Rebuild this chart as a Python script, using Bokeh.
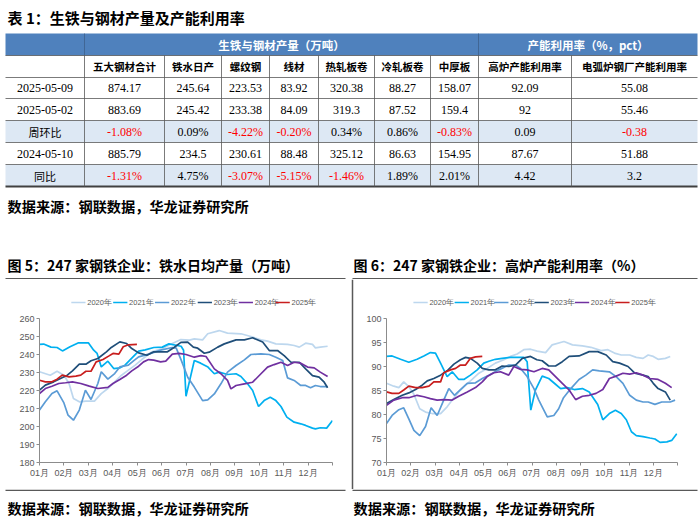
from bokeh.plotting import figure
from bokeh.models import Range1d, FixedTicker
from bokeh.layouts import column, row
from bokeh.embed import file_html
from bokeh.resources import INLINE
from bokeh.core.properties import value

# ---------------- texts ----------------
table_title = "表 1：生铁与钢材产量及产能利用率"
group_headers = ["生铁与钢材产量（万吨）", "产能利用率（%，pct）"]
col_headers = ["五大钢材合计", "铁水日产", "螺纹钢", "线材", "热轧板卷", "冷轧板卷",
               "中厚板", "高炉产能利用率", "电弧炉钢厂产能利用率"]
row_labels = ["2025-05-09", "2025-05-02", "周环比", "2024-05-10", "同比"]
row_2025_05_09 = ["874.17", "245.64", "223.53", "83.92", "320.38", "88.27", "158.07", "92.09", "55.08"]
row_2025_05_02 = ["883.69", "245.42", "233.38", "84.09", "319.3", "87.52", "159.4", "92", "55.46"]
row_wow = ["-1.08%", "0.09%", "-4.22%", "-0.20%", "0.34%", "0.86%", "-0.83%", "0.09", "-0.38"]
row_2024_05_10 = ["885.79", "234.5", "230.61", "88.48", "325.12", "86.63", "154.95", "87.67", "51.88"]
row_yoy = ["-1.31%", "4.75%", "-3.07%", "-5.15%", "-1.46%", "1.89%", "2.01%", "4.42", "3.2"]
source_note = "数据来源：钢联数据，华龙证券研究所"
fig5_title = "图 5：247 家钢铁企业：铁水日均产量（万吨）"
fig6_title = "图 6：247 家钢铁企业：高炉产能利用率（%）"
years = ["2020年", "2021年", "2022年", "2023年", "2024年", "2025年"]
month_labels = ["01月", "02月", "03月", "04月", "05月", "06月", "07月", "08月", "09月", "10月", "11月", "12月"]

# ---------------- chart data (x = months since Jan 1) ----------------
iron_2020_x = [0, 0.44, 0.72, 1.0, 1.21, 1.39, 1.63, 1.9, 2.25, 2.53, 2.8, 3.08, 3.36, 3.64, 3.92, 4.19, 4.61, 5.03, 5.44, 5.79,
               6.14, 6.34, 6.68, 6.89, 7.36, 7.7, 8.25, 8.66, 9.07, 9.34, 9.68, 10.16, 10.43, 10.64, 10.9, 11.18, 11.3, 11.5, 11.8]
iron_2020_y = [230.4, 228.5, 230.7, 228.5, 223.9, 215.6, 213.7, 214.1, 214.1, 218.3, 221.1, 224.8, 228.5, 231.3, 234.1, 237.2, 241.5, 243.3, 246.1, 248.3,
               248.0, 248.7, 248.1, 251.5, 253.3, 251.9, 251.5, 250.0, 248.1, 247.4, 245.9, 245.6, 245.0, 244.1, 246.3, 245.6, 243.7, 244.1, 244.6]
iron_2021_x = [0, 0.17, 0.47, 0.72, 0.94, 1.25, 1.6, 2.0, 2.22, 2.36, 2.53, 2.8, 3.04, 3.3, 3.5, 3.78, 4.06, 4.33, 4.68, 5.03,
               5.3, 5.8, 5.9, 6.0, 6.34, 6.6, 6.9, 7.16, 7.36, 7.7, 8.05, 8.25, 8.52, 8.73, 8.97, 9.2, 9.45, 9.68, 9.89, 10.13,
               10.43, 10.7, 10.9, 11.18, 11.3, 11.5, 11.76, 12.0]
iron_2021_y = [245.6, 245.8, 244.1, 243.9, 242.0, 244.3, 246.5, 246.5, 242.4, 240.6, 233.1, 236.3, 232.2, 232.6, 234.1, 238.0, 241.9, 242.6, 243.9, 244.1,
               245.9, 244.6, 242.4, 216.8, 236.7, 235.2, 233.0, 229.3, 230.2, 228.9, 229.3, 227.8, 223.7, 220.0, 211.1, 214.4, 216.3, 214.4, 211.1, 205.2,
               202.4, 201.5, 200.6, 199.1, 198.7, 199.3, 199.1, 203.3]
iron_2022_x = [0, 0.24, 0.51, 0.72, 1.0, 1.17, 1.39, 1.63, 1.88, 2.11, 2.39, 2.53, 2.8, 3.08, 3.29, 3.64, 3.85, 4.06, 4.47, 4.96,
               5.44, 5.6, 5.8, 6.07, 6.34, 6.68, 6.89, 7.16, 7.43, 7.7, 8.05, 8.39, 8.66, 9.07, 9.41, 9.68, 9.96, 10.16, 10.43, 10.7,
               10.9, 11.1, 11.3, 11.5, 11.8]
iron_2022_y = [209.1, 213.7, 218.3, 219.8, 213.1, 206.3, 203.5, 209.1, 220.2, 215.0, 223.9, 230.4, 226.3, 229.4, 233.1, 234.1, 236.5, 238.7, 240.2, 242.4,
               243.9, 243.5, 237.0, 227.4, 221.9, 214.4, 214.8, 218.1, 223.7, 230.2, 233.9, 237.0, 240.0, 240.4, 240.0, 238.5, 236.7, 227.0, 225.6, 222.8,
               222.8, 221.5, 222.8, 222.2, 222.2]
iron_2023_x = [0, 0.24, 0.58, 0.86, 1.14, 1.35, 1.63, 1.9, 2.11, 2.39, 2.74, 2.94, 3.29, 3.57, 3.78, 4.06, 4.4, 4.68, 4.96, 5.24,
               5.51, 5.79, 6.07, 6.3, 6.48, 6.75, 6.95, 7.3, 7.57, 8.05, 8.39, 8.73, 9.14, 9.41, 9.75, 10.02, 10.3, 10.64, 10.9, 11.18,
               11.45, 11.66, 11.8]
iron_2023_y = [220.2, 223.0, 224.8, 226.7, 228.5, 230.9, 234.6, 234.6, 236.5, 237.8, 241.5, 243.9, 247.0, 246.1, 243.3, 240.9, 239.6, 241.5, 241.5, 241.5,
               243.9, 246.7, 246.9, 244.1, 243.5, 240.7, 241.3, 244.1, 245.9, 248.1, 248.1, 249.3, 246.9, 242.2, 242.2, 239.4, 235.7, 235.7, 232.0, 228.3,
               227.4, 224.6, 221.5]
iron_2024_x = [0, 0.24, 0.51, 0.79, 1.07, 1.35, 1.69, 2.04, 2.39, 2.8, 3.01, 3.29, 3.57, 3.78, 4.06, 4.26, 4.47, 4.68, 4.96, 5.17,
               5.44, 5.72, 6.0, 6.34, 6.61, 6.82, 7.16, 7.43, 7.7, 7.84, 8.05, 8.39, 8.73, 9.07, 9.34, 9.61, 9.89, 10.16, 10.43, 10.7,
               10.98, 11.25, 11.5, 11.8]
iron_2024_y = [218.3, 221.1, 222.4, 223.9, 224.3, 224.8, 223.9, 222.4, 221.1, 221.7, 223.9, 226.1, 228.5, 230.9, 233.5, 235.9, 237.2, 236.9, 235.9, 236.3,
               240.2, 240.6, 240.0, 238.5, 239.4, 238.9, 232.0, 229.3, 225.6, 220.9, 222.8, 223.7, 224.6, 229.3, 233.0, 234.4, 235.7, 233.9, 235.7, 235.2,
               233.0, 232.6, 230.2, 227.8]
iron_2025_x = [0, 0.24, 0.51, 0.72, 0.93, 1.21, 1.49, 1.69, 1.9, 2.11, 2.32, 2.6, 2.83, 3.01, 3.25, 3.43, 3.64, 3.99]
iron_2025_y = [225.7, 224.8, 224.8, 226.3, 228.5, 227.6, 228.0, 228.5, 230.7, 230.7, 235.9, 237.2, 239.1, 240.6, 240.2, 244.3, 245.4, 245.6]

bf_2020_x = [0, 0.3, 0.51, 0.71, 0.92, 1.13, 1.37, 1.61, 1.88, 2.23, 2.5, 2.71, 2.98, 3.26, 3.53, 3.81, 4.15, 4.49, 4.84, 5.11,
             5.39, 5.66, 5.94, 6.21, 6.56, 6.83, 7.32, 7.67, 8.08, 8.43, 8.85, 9.13, 9.4, 9.68, 10.03, 10.3, 10.58, 10.79, 11.0, 11.2,
             11.5, 11.7]
bf_2020_y = [86.5, 85.9, 85.6, 86.8, 85.8, 84.2, 81.2, 80.5, 80.2, 80.2, 81.6, 83.0, 84.7, 86.1, 87.3, 88.6, 89.6, 90.7, 91.4, 92.1,
             92.6, 93.5, 93.6, 93.2, 92.9, 94.5, 95.2, 94.5, 94.3, 94.0, 93.3, 93.5, 92.8, 92.4, 92.4, 91.9, 91.7, 92.4, 92.1, 91.5,
             91.7, 92.1]
bf_2021_x = [0, 0.23, 0.58, 0.92, 1.26, 1.54, 1.81, 2.02, 2.23, 2.5, 2.71, 2.98, 3.19, 3.46, 3.74, 4.01, 4.22, 4.49, 4.77, 5.11,
             5.39, 5.66, 5.8, 5.95, 6.14, 6.42, 6.69, 6.97, 7.18, 7.46, 7.74, 8.08, 8.36, 8.71, 8.92, 9.19, 9.44, 9.68, 9.89, 10.1,
             10.3, 10.58, 10.86, 11.07, 11.28, 11.56, 11.76, 11.97]
bf_2021_y = [92.1, 92.2, 91.5, 90.9, 91.5, 92.2, 92.9, 92.8, 90.7, 87.9, 88.9, 87.3, 87.3, 88.2, 89.3, 90.7, 91.1, 91.5, 91.7, 91.9,
             91.9, 91.9, 91.0, 80.9, 85.1, 88.0, 87.5, 86.3, 85.4, 85.6, 85.2, 85.4, 84.7, 82.1, 78.9, 80.2, 80.9, 80.2, 78.9, 76.4,
             75.6, 75.4, 75.1, 74.9, 74.2, 74.3, 74.6, 76.0]
bf_2022_x = [0, 0.23, 0.51, 0.71, 0.92, 1.13, 1.37, 1.61, 1.84, 2.09, 2.36, 2.57, 2.8, 3.05, 3.33, 3.67, 3.95, 4.22, 4.63, 5.04,
             5.32, 5.53, 5.8, 6.08, 6.28, 6.42, 6.63, 6.9, 7.1, 7.3, 7.6, 7.94, 8.22, 8.5, 8.78, 9.19, 9.47, 9.75, 10.03, 10.3,
             10.58, 10.79, 11.07, 11.35, 11.7, 11.9]
bf_2022_y = [78.1, 79.8, 81.0, 81.4, 79.1, 76.7, 75.6, 77.5, 81.4, 79.8, 83.0, 85.4, 84.0, 85.2, 86.5, 86.6, 87.5, 88.2, 89.3, 90.3,
             90.3, 89.6, 87.9, 85.4, 83.0, 81.6, 79.5, 79.8, 81.2, 83.5, 85.4, 87.3, 88.2, 89.3, 89.1, 88.9, 87.9, 86.5, 84.0, 83.0,
             82.6, 82.6, 82.1, 82.6, 82.6, 83.0]
bf_2023_x = [0, 0.3, 0.65, 0.92, 1.2, 1.47, 1.68, 1.95, 2.23, 2.5, 2.78, 3.05, 3.26, 3.46, 3.74, 3.95, 4.22, 4.49, 4.77, 5.04,
             5.32, 5.6, 5.94, 6.2, 6.42, 6.69, 6.97, 7.25, 7.53, 7.94, 8.36, 8.71, 9.06, 9.33, 9.61, 9.96, 10.24, 10.58, 10.79, 11.0,
             11.2, 11.5, 11.7]
bf_2023_y = [82.3, 83.1, 84.0, 84.5, 85.2, 86.1, 87.0, 87.5, 88.2, 89.1, 90.5, 91.4, 91.9, 91.7, 90.7, 89.6, 89.3, 89.3, 90.1, 90.0,
             90.3, 91.7, 92.1, 91.4, 91.2, 90.1, 90.1, 91.0, 92.1, 92.2, 93.1, 93.1, 92.4, 91.0, 90.7, 90.0, 88.6, 88.2, 87.9, 86.5,
             85.4, 84.7, 83.0]
bf_2024_x = [0, 0.3, 0.65, 0.92, 1.26, 1.54, 1.81, 2.09, 2.36, 2.71, 2.98, 3.33, 3.67, 3.95, 4.15, 4.43, 4.7, 5.04, 5.25, 5.53,
             5.8, 6.08, 6.42, 6.69, 6.97, 7.25, 7.53, 7.8, 8.08, 8.36, 8.64, 8.92, 9.19, 9.47, 9.75, 10.03, 10.3, 10.58, 10.86, 11.2,
             11.5, 11.76]
bf_2024_y = [81.9, 83.0, 83.5, 83.5, 84.0, 83.7, 83.3, 83.0, 83.1, 83.0, 83.8, 84.7, 85.6, 86.8, 87.9, 88.7, 88.9, 88.2, 90.0, 89.4,
             89.3, 88.9, 89.6, 89.3, 87.9, 86.5, 85.1, 83.1, 83.8, 84.0, 84.4, 85.2, 87.5, 88.0, 88.6, 88.4, 88.7, 88.2, 87.5, 87.3,
             86.5, 85.6]
bf_2025_x = [0, 0.23, 0.51, 0.71, 0.92, 1.2, 1.47, 1.75, 1.95, 2.23, 2.36, 2.64, 2.85, 3.05, 3.26, 3.46, 3.67, 3.95]
bf_2025_y = [84.7, 84.4, 84.4, 85.1, 85.9, 85.6, 85.6, 85.9, 86.8, 86.8, 88.7, 89.3, 89.6, 90.3, 90.3, 91.7, 92.0, 92.1]

iron_y_ticks = [180, 190, 200, 210, 220, 230, 240, 250, 260]
bf_y_ticks = [70, 75, 80, 85, 90, 95, 100]

# ---------------- styles / layout ----------------
CJK = "Noto Sans CJK SC"
SERIF = "Liberation Serif"
SANS = "Liberation Sans"
HEADER_BLUE = "#4F81BD"
LIGHT_ROW = "#DDE8F4"
NEG_RED = "#FF0000"
GRID_DARK = "#595959"
AXIS_GRAY = "#8C8C8C"
TICK_TEXT = "#595959"
year_colors = ["#BDD7EE", "#00B0F0", "#5B9BD5", "#1F4E79", "#7030A0", "#C81E1E"]

W = 700
TOP_H = 279
CHART_H = 210
LEG_H = 31
BOT_H = 43
W1 = 350
WSEP = 4
W2 = W - W1 - WSEP
legend1_starts = [38, 88, 138, 189, 238, 282]
legend2_starts = [32, 81, 128, 176, 224, 272]


def txt(p, x, y, s, size, font, color="black", bold=False, align="center"):
    p.text(x=[x], y=[y], text=[s], text_font=value(font), text_font_size=f"{size}px",
           text_color=color, text_align=align, text_baseline="middle",
           text_font_style="bold" if bold else "normal")


def blank(width, height):
    p = figure(width=width, height=height, x_range=Range1d(0, width), y_range=Range1d(height, 0),
               x_axis_type=None, y_axis_type=None, min_border=0,
               toolbar_location=None, output_backend="svg")
    p.grid.visible = False
    p.outline_line_color = None
    return p


# ---------------- top: title, table, notes ----------------
top = blank(W, TOP_H)
txt(top, 7, 17, table_title, 15, CJK, bold=True, align="left")

col_edges = [5, 84, 164, 221, 269, 318, 374, 430, 478, 571, 697]
row_edges = [33, 55, 77, 98, 120, 142, 164, 186]

top.quad(left=[col_edges[0]], right=[col_edges[-1]], top=[row_edges[0]], bottom=[row_edges[1]],
         fill_color=HEADER_BLUE, line_color=None)
for i in (2, 4):
    top.quad(left=[col_edges[0]], right=[col_edges[-1]], top=[row_edges[2 + i]], bottom=[row_edges[3 + i]],
             fill_color=LIGHT_ROW, line_color=None)

for k in range(1, 7):
    top.segment(x0=[col_edges[0]], x1=[col_edges[-1]], y0=[row_edges[k]], y1=[row_edges[k]],
                line_color=GRID_DARK, line_width=0.8)
top.segment(x0=[col_edges[0]], x1=[col_edges[-1]], y0=[row_edges[7]], y1=[row_edges[7]],
            line_color="#404040", line_width=1.8)
for k in (1, 8):
    top.segment(x0=[col_edges[k]], x1=[col_edges[k]], y0=[row_edges[0]], y1=[row_edges[1]],
                line_color="#3C5F8A", line_width=0.8)
for k in range(1, 10):
    top.segment(x0=[col_edges[k]], x1=[col_edges[k]], y0=[row_edges[1]], y1=[row_edges[7]],
                line_color=GRID_DARK, line_width=0.8)

hy = (row_edges[0] + row_edges[1]) / 2
txt(top, (col_edges[1] + col_edges[8]) / 2, hy, group_headers[0], 11.5, CJK, color="white", bold=True)
txt(top, (col_edges[8] + col_edges[10]) / 2, hy, group_headers[1], 11.5, CJK, color="white", bold=True)

h2y = (row_edges[1] + row_edges[2]) / 2
for j, name in enumerate(col_headers):
    txt(top, (col_edges[j + 1] + col_edges[j + 2]) / 2, h2y, name, 10.5, CJK, bold=True)

body = [row_2025_05_09, row_2025_05_02, row_wow, row_2024_05_10, row_yoy]
for i, (lab, vals) in enumerate(zip(row_labels, body)):
    ry = (row_edges[2 + i] + row_edges[3 + i]) / 2
    is_date = lab[0].isdigit()
    txt(top, (col_edges[0] + col_edges[1]) / 2, ry, lab, 12 if is_date else 11,
        SERIF if is_date else CJK)
    for j, v in enumerate(vals):
        color = NEG_RED if v.startswith("-") else "black"
        txt(top, (col_edges[j + 1] + col_edges[j + 2]) / 2, ry, v, 12, SERIF, color=color)

txt(top, 7, 205, source_note, 14.2, CJK, bold=True, align="left")
txt(top, 7, 264, fig5_title, 14, CJK, bold=True, align="left")
txt(top, 353, 264, fig6_title, 14, CJK, bold=True, align="left")
top.segment(x0=[5, 352], x1=[345, 697], y0=[TOP_H - 0.8, TOP_H - 0.8], y1=[TOP_H - 0.8, TOP_H - 0.8],
            line_color=GRID_DARK, line_width=1.5)


# ---------------- charts ----------------
def make_chart(xs_list, ys_list, y_start, y_end, y_ticks, width, border_left, frame_w, legend_starts):
    p = figure(frame_width=frame_w, frame_height=144,
               min_border_left=border_left, min_border_right=width - border_left - frame_w,
               min_border_top=39 - LEG_H, min_border_bottom=CHART_H - 39 - 144,
               x_range=Range1d(0, 12), y_range=Range1d(y_start, y_end),
               toolbar_location=None, output_backend="svg")
    p.xgrid.visible = False
    p.ygrid.visible = False
    p.outline_line_color = None
    for ax in (p.xaxis[0], p.yaxis[0]):
        ax.axis_line_color = AXIS_GRAY
        ax.axis_line_width = 1
        ax.major_tick_line_color = AXIS_GRAY
        ax.minor_tick_line_color = None
        ax.major_tick_in = 0
        ax.major_tick_out = 3
        ax.major_label_text_font = SANS
        ax.major_label_text_font_size = "9px"
        ax.major_label_text_color = TICK_TEXT
        ax.major_label_standoff = 2
    p.xaxis.ticker = FixedTicker(ticks=list(range(13)))
    p.xaxis.major_label_overrides = {i: (month_labels[i] if i < 12 else "") for i in range(13)}
    p.yaxis.ticker = FixedTicker(ticks=y_ticks)

    for name, color, xs, ys in zip(years, year_colors, xs_list, ys_list):
        assert len(xs) == len(ys), name
        p.line(xs, ys, line_color=color, line_width=1.7)

    # legend strip above the chart (drawn as line samples + labels)
    lf = blank(width, LEG_H)
    ly = 23
    for name, color, x0 in zip(years, year_colors, legend_starts):
        lf.segment(x0=[x0], x1=[x0 + 17], y0=[ly], y1=[ly], line_color=color, line_width=1.7)
        lf.text(x=[x0 + 19], y=[ly], text=[name], text_font=value(SANS), text_font_size="7.5px",
                text_color=TICK_TEXT, text_align="left", text_baseline="middle")
    return column(lf, p)


chart1 = make_chart([iron_2020_x, iron_2021_x, iron_2022_x, iron_2023_x, iron_2024_x, iron_2025_x],
                    [iron_2020_y, iron_2021_y, iron_2022_y, iron_2023_y, iron_2024_y, iron_2025_y],
                    180, 260, iron_y_ticks, W1, 39, 293, legend1_starts)
chart2 = make_chart([bf_2020_x, bf_2021_x, bf_2022_x, bf_2023_x, bf_2024_x, bf_2025_x],
                    [bf_2020_y, bf_2021_y, bf_2022_y, bf_2023_y, bf_2024_y, bf_2025_y],
                    70, 100, bf_y_ticks, W2, 32, 291, legend2_starts)

sep = blank(WSEP, CHART_H)
sep.segment(x0=[2], x1=[2], y0=[0], y1=[CHART_H], line_color=GRID_DARK, line_width=1.5)

# ---------------- bottom notes ----------------
bottom = blank(W, BOT_H)
bottom.segment(x0=[5, 352], x1=[345, 697], y0=[0.8, 0.8], y1=[0.8, 0.8],
               line_color=GRID_DARK, line_width=1.5)
txt(bottom, 7, 18, source_note, 14.2, CJK, bold=True, align="left")
txt(bottom, 353, 18, source_note, 14.2, CJK, bold=True, align="left")

layout = column(top, row(chart1, sep, chart2), bottom)
open("out.html", "w").write(file_html(layout, INLINE, "chart"))
